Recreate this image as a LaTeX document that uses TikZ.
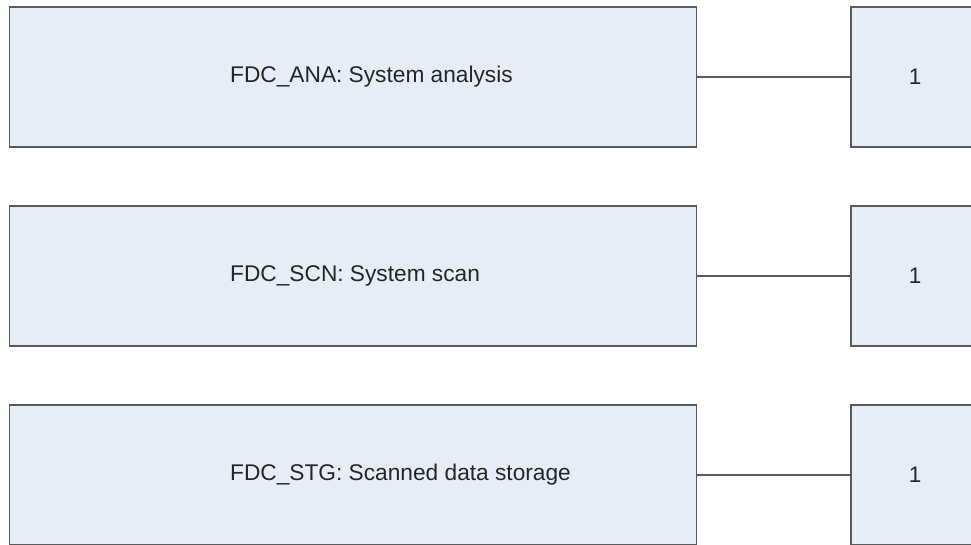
\documentclass[tikz,border=0pt]{standalone}
\usepackage{fontspec}
\setmainfont{Liberation Sans}
\definecolor{boxfill}{HTML}{E7EDF7}
\definecolor{boxline}{HTML}{5A5A5A}
\definecolor{txt}{HTML}{262626}
\begin{document}
\begin{tikzpicture}[x=1pt,y=-1pt,
  entity/.style={draw=boxline,fill=boxfill,line width=1.6pt,minimum width=687pt,minimum height=140pt,inner sep=0pt},
  mult/.style={draw=boxline,fill=boxfill,line width=1.6pt,minimum width=128pt,minimum height=140pt,inner sep=0pt,font=\fontsize{22.5}{26}\selectfont,text=txt},
  lbl/.style={anchor=west,inner sep=0pt,font=\fontsize{22.7}{26}\selectfont,text=txt},
  link/.style={draw=boxline,line width=1.6pt}]
\useasboundingbox (0,0) rectangle (971,544);
\clip (0,0) rectangle (971,544);
\fill[white] (0,0) rectangle (971,544);
\node[entity] (e1) at (353,77) {};
\node[entity] (e2) at (353,276) {};
\node[entity] (e3) at (353,475) {};
\node[mult] (m1) at (915,77) {1};
\node[mult] (m2) at (915,276) {1};
\node[mult] (m3) at (915,475) {1};
\node[lbl] (t1) at (230,77) {FDC\_ANA: System analysis};
\node[lbl] (t2) at (230,276) {FDC\_SCN: System scan};
\node[lbl] (t3) at (230,475) {FDC\_STG: Scanned data storage};
\draw[link] (e1.east) -- (m1.west);
\draw[link] (e2.east) -- (m2.west);
\draw[link] (e3.east) -- (m3.west);
\end{tikzpicture}
\end{document}
